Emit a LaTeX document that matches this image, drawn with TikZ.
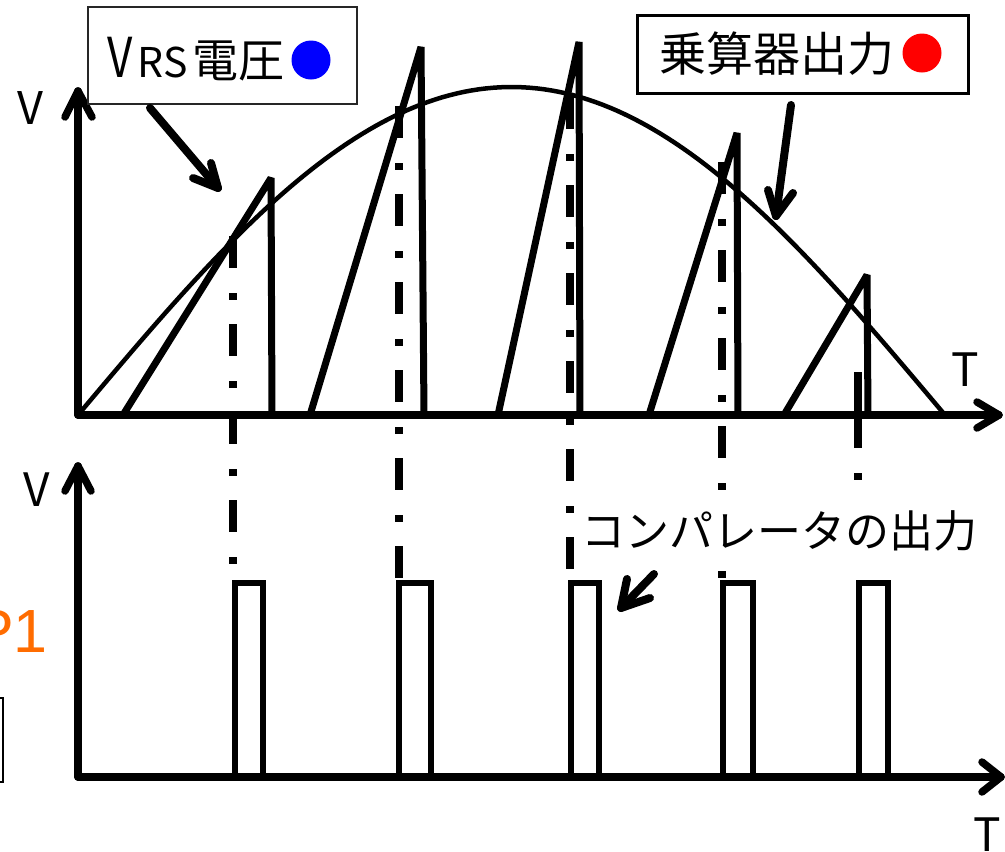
\documentclass[tikz,border=0pt]{standalone}
\usepackage{fontspec}
\setmainfont{Noto Sans CJK JP}
\newfontfamily\arialfont{Liberation Sans}
\definecolor{orangeP}{RGB}{255,108,0}
\begin{document}
\begin{tikzpicture}[x=1pt,y=-1pt,
  axis/.style={line width=7.5pt, line cap=round, line join=round},
  sine/.style={line width=4.5pt},
  saw/.style={line width=7pt, line join=bevel},
  dd/.style={line width=8pt, dash pattern=on 32pt off 25pt on 7pt off 24pt},
  pulse/.style={line width=5.5pt, line join=miter},
  callout/.style={line width=8pt, line cap=round, line join=round},
  lbl/.style={inner sep=0pt, anchor=center},
  fs/.style={font=\fontsize{#1}{#1}\selectfont}
]
\useasboundingbox (0,0) rectangle (1005,852);
\clip (0,0) rectangle (1005,852);

% ---- upper graph ----
\draw[sine] plot[domain=0:180, samples=120] ({78+4.81667*\x},{415-328*sin(\x)});

\draw[saw] (123,415) -- (271,178) -- (272,415);
\draw[saw] (310,415) -- (421,47) -- (424,415);
\draw[saw] (498,415) -- (579,42) -- (580,415);
\draw[saw] (648,418) -- (737,133) -- (738,415);
\draw[saw] (784,415) -- (867,275) -- (868,415);

% dash-dot guide lines
\draw[dd] (233,236) -- (233,583);
\draw[dd] (399,106) -- (399,583);
\draw[dd] (570,97) -- (570,583);
\draw[dd] (722,162) -- (722,583);
\draw[line width=8pt, dash pattern=on 76pt off 25pt on 7pt off 300pt] (858,372) -- (858,583);

% axes (upper)
\coordinate (O1) at (78,415);
\coordinate (V1) at (78,91);
\coordinate (T1) at (999,415);
\draw[axis] (O1) -- (V1);
\draw[axis] (O1) -- (T1);
\draw[axis] ([shift={(-13,26)}]V1) -- (V1) -- ([shift={(14,26)}]V1);
\draw[axis] ([shift={(-22,-13)}]T1) -- (T1) -- ([shift={(-22,13)}]T1);

% axes (lower)
\coordinate (O2) at (78,777);
\coordinate (V2) at (78,466);
\coordinate (T2) at (1001,777);
\draw[axis] (O2) -- (V2);
\draw[axis] (O2) -- (T2);
\draw[axis] ([shift={(-13,25)}]V2) -- (V2) -- ([shift={(13,25)}]V2);
\draw[axis] ([shift={(-19,-15)}]T2) -- (T2) -- ([shift={(-19,15)}]T2);

% pulses
\draw[pulse] (235,777) -- (235,583) -- (263,583) -- (263,777);
\draw[pulse] (399,777) -- (399,583) -- (431,583) -- (431,777);
\draw[pulse] (571,777) -- (571,583) -- (599,583) -- (599,777);
\draw[pulse] (723,777) -- (723,583) -- (753,583) -- (753,777);
\draw[pulse] (859,777) -- (859,583) -- (888,583) -- (888,777);

% axis labels
\node[lbl, fs=45] (vup) at (30,108) {V};
\node[lbl, fs=46] (tup) at (965,370) {T};
\node[lbl, fs=46] (vlo) at (37,490) {V};
\node[lbl, fs=46, anchor=north] (tlo) at (987,818) {T};

% comparator label
\node[lbl, fs=44, fill=white, inner sep=3pt] (cmp) at (779,531) {コンパレータの出力};
\coordinate (c3a) at (654,574);
\coordinate (c3b) at (621,608);
\draw[callout] (c3a) -- (c3b);
\draw[callout] ([shift={(6,-29)}]c3b) -- (c3b) -- ([shift={(29,-10)}]c3b);

% VRS label box
\node[draw=black!85, line width=1.3pt, minimum width=269pt, minimum height=97pt, inner sep=0pt, fill=white] (box1) at (222.5,55.5) {};
\node[lbl, fs=55] (b1v) at (120.5,57) {\scalebox{0.8}[1]{V}};
\node[lbl, fs=41] (b1rs) at (162.5,62) {RS};
\node[lbl, fs=46] (b1t) at (238,61) {電圧};
\node[circle, fill=blue, minimum size=39pt, inner sep=0pt] (b1c) at (311,60) {};
\coordinate (c1a) at (150,108);
\coordinate (c1b) at (218,188);
\draw[callout] (c1a) -- (c1b);
\draw[callout] ([shift={(-25,-10)}]c1b) -- (c1b) -- ([shift={(-7,-25)}]c1b);

% multiplier label box
\node[draw, line width=3pt, minimum width=331pt, minimum height=78pt, inner sep=0pt, fill=white] (box2) at (802.5,54) {};
\node[lbl, fs=47] (b2t) at (776.5,54) {乗算器出力};
\node[circle, fill=red, minimum size=39pt, inner sep=0pt] (b2c) at (922,53) {};
\coordinate (c2a) at (791,105);
\coordinate (c2b) at (776,216);
\draw[callout] (c2a) -- (c2b);
\draw[callout] ([shift={(-8,-26)}]c2b) -- (c2b) -- ([shift={(17,-23)}]c2b);

% left-edge partial elements
\node[inner sep=0pt, anchor=base east, text=orangeP, font=\arialfont\fontsize{61}{61}\selectfont] (p1) at (48,652) {P1};
\draw[line width=1.3pt] (-60,698) rectangle (3,782);
\end{tikzpicture}
\end{document}
